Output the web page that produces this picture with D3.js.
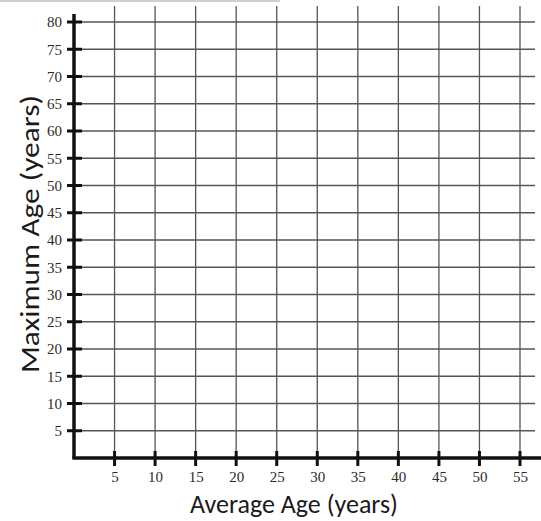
<!DOCTYPE html>
<html><head><meta charset="utf-8">
<script src="https://cdn.jsdelivr.net/npm/d3@7"></script>
<style>body{margin:0;background:#fff}svg{display:block}</style>
</head><body>
<svg id="c" width="541" height="521"></svg>
<script>
const xTicks = [5,10,15,20,25,30,35,40,45,50,55];
const yTicks = [5,10,15,20,25,30,35,40,45,50,55,60,65,70,75,80];
const xTitle = "Average Age (years)";
const yTitle = "Maximum Age (years)";

const svg = d3.select("#c");
const x = d3.scaleLinear().domain([0,55]).range([74,520]);
const y = d3.scaleLinear().domain([0,80]).range([458,22]);

svg.append("line").attr("x1",0).attr("x2",280).attr("y1",1).attr("y2",1).attr("stroke","#d0d0d0").attr("stroke-width",2);

const g = svg.append("g");
g.selectAll(".vg").data(xTicks).join("line")
  .attr("x1",d=>x(d)).attr("x2",d=>x(d)).attr("y1",6).attr("y2",458)
  .attr("stroke","#555").attr("stroke-width",1.3);
g.selectAll(".hg").data(yTicks).join("line")
  .attr("x1",74).attr("x2",535).attr("y1",d=>y(d)).attr("y2",d=>y(d))
  .attr("stroke","#555").attr("stroke-width",1.3);

const xAxis = d3.axisBottom(x).tickValues(xTicks).tickSize(0).tickPadding(13);
const yAxis = d3.axisLeft(y).tickValues(yTicks).tickSize(0).tickPadding(12);
const xa = svg.append("g").attr("transform","translate(0,458)").call(xAxis);
const ya = svg.append("g").attr("transform","translate(74,0)").call(yAxis);
[xa,ya].forEach(a=>{
  a.attr("font-family","Liberation Serif, Times New Roman, serif").attr("font-size",15);
  a.select(".domain").remove();
  a.selectAll("text").style("font-family","'Liberation Serif','Times New Roman',serif")
    .style("font-size","15px").style("fill","#2a2a2a");
});

svg.selectAll(".xt").data(xTicks).join("line")
  .attr("x1",d=>x(d)).attr("x2",d=>x(d)).attr("y1",451).attr("y2",466)
  .attr("stroke","#111").attr("stroke-width",3);
svg.selectAll(".yt").data(yTicks).join("line")
  .attr("x1",67).attr("x2",82).attr("y1",d=>y(d)).attr("y2",d=>y(d))
  .attr("stroke","#111").attr("stroke-width",3);

svg.append("line").attr("x1",74).attr("x2",74).attr("y1",14).attr("y2",459)
  .attr("stroke","#111").attr("stroke-width",3.5);
svg.append("line").attr("x1",72.5).attr("x2",541).attr("y1",458).attr("y2",458)
  .attr("stroke","#111").attr("stroke-width",3.5);

svg.append("text").attr("x",294).attr("y",513).attr("text-anchor","middle")
  .attr("font-family","Carlito,'Open Sans','DejaVu Sans',sans-serif").attr("font-size",26).attr("fill","#1a1a1a")
  .attr("textLength",208).attr("lengthAdjust","spacingAndGlyphs")
  .text(xTitle);
svg.append("text").attr("transform","translate(39,234) rotate(-90)").attr("text-anchor","middle")
  .attr("font-family","Carlito,'Open Sans','DejaVu Sans',sans-serif").attr("font-size",27).attr("fill","#1a1a1a")
  .attr("textLength",278).attr("lengthAdjust","spacingAndGlyphs")
  .text(yTitle);
</script>
</body></html>
